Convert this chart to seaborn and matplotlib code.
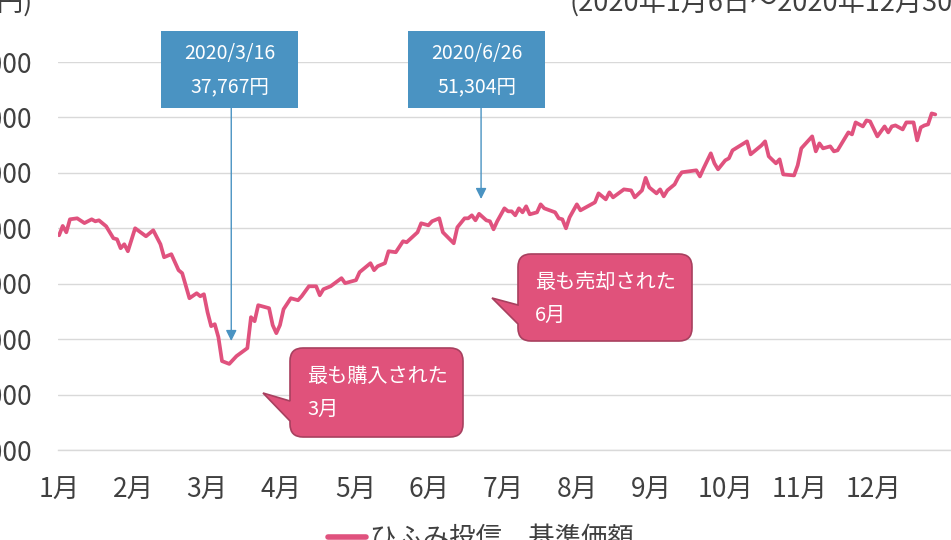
import numpy as np
import pandas as pd
import matplotlib
matplotlib.use("Agg")
import matplotlib.pyplot as plt
import seaborn as sns
from matplotlib.patches import Rectangle, PathPatch
from matplotlib.path import Path


# trading-day index (0 = 2020/1/6) and NAV (yen)
day_idx = [0, 1, 2, 3, 5, 7, 9, 10, 11, 13, 15, 16, 17, 18, 19, 21, 24, 26, 28, 29,
           31, 33, 34, 36, 38, 39, 40, 41, 42, 43, 44, 45, 47, 49, 52, 53, 54, 55, 58, 59,
           60, 61, 62, 64, 66, 67, 69, 71, 72, 73, 75, 78, 79, 82, 83, 86, 87, 88, 90, 91,
           93, 95, 96, 99, 100, 102, 103, 105, 106, 109, 110, 112, 113, 114, 115, 116, 118, 119, 120, 121,
           123, 124, 125, 126, 127, 128, 129, 130, 132, 133, 134, 137, 138, 139, 140, 141, 143, 144, 148, 149,
           151, 152, 153, 156, 158, 159, 161, 162, 163, 165, 166, 167, 168, 170, 171, 172, 176, 177, 178, 180,
           181, 182, 184, 185, 186, 190, 191, 194, 195, 196, 198, 199, 200, 203, 204, 205, 208, 209, 210, 211,
           213, 214, 215, 218, 219, 220, 222, 223, 224, 226, 228, 229, 230, 231, 233, 234, 236, 237, 238, 239,
           240, 241, 242]
nav = [49370, 50210, 49640, 50810, 50900, 50470, 50810, 50630, 50720, 50180, 49100, 49010, 48200, 48560, 47930, 50000, 49280, 49820, 48560, 47390,
       47660, 46220, 45950, 43690, 44140, 43870, 44050, 42430, 41170, 41350, 40180, 38020, 37767, 38470, 39190, 41980, 41620, 43060, 42790, 41260,
       40540, 41260, 42700, 43690, 43510, 43870, 44770, 44770, 43960, 44500, 44770, 45500, 45050, 45320, 46040, 46850, 46220, 46580, 46850, 47930,
       47840, 48830, 48740, 49640, 50450, 50270, 50630, 50900, 49640, 48650, 50090, 50900, 50900, 51170, 50720, 51304, 50720, 50630, 49910, 50630,
       51800, 51530, 51530, 51170, 51800, 51440, 51980, 51260, 51440, 52160, 51800, 51440, 50900, 50810, 50000, 50990, 52160, 51620, 52340, 53150,
       52610, 53240, 52790, 53510, 53420, 52790, 53420, 54550, 53690, 53150, 53510, 52880, 53420, 53960, 54590, 55050, 55230, 54680, 55410, 56760,
       55860, 55320, 56130, 56310, 57030, 57840, 56670, 57480, 57840, 56490, 55860, 56220, 54860, 54770, 55680, 57210, 58290, 56940, 57660, 57210,
       57390, 56940, 57030, 58650, 58470, 59550, 59190, 59730, 59640, 58290, 59190, 58650, 59190, 59280, 58920, 59550, 59550, 57930, 59100, 59280,
       59370, 60360, 60270]

month_labels = [f"{m}月" for m in range(1, 13)]
y_ticks = [30000, 35000, 40000, 45000, 50000, 55000, 60000, 65000]

series_name = "ひふみ投信　基準価額"
period_text = "(2020年1月6日〜2020年12月30日)"
unit_text = "(円)"

buy_day, buy_nav, buy_date = 47, 37767, "2020/3/16"
sell_day, sell_nav, sell_date = 116, 51304, "2020/6/26"
buy_note = ["最も購入された", "3月"]
sell_note = ["最も売却された", "6月"]

LINE = "#E0527E"
BLUE = "#4A93C2"
PINK = "#E0527B"
PINK_EDGE = "#A8405F"
GRID = "#D9D9D9"
TXT = "#404040"

W, H = 951, 540


def callout_path(x0, y0, x1, y1, r, tip, w0, w1):
    """Rounded box with a wedge on its left side (pixel coords, y down)."""
    M, L, C, Z = Path.MOVETO, Path.LINETO, Path.CURVE3, Path.CLOSEPOLY
    verts = [(x0 + r, y0), (x1 - r, y0), (x1, y0), (x1, y0 + r),
             (x1, y1 - r), (x1, y1), (x1 - r, y1),
             (x0 + r, y1), (x0, y1), (x0, y1 - r),
             (x0, w1), tip, (x0, w0),
             (x0, y0 + r), (x0, y0), (x0 + r, y0), (x0 + r, y0)]
    codes = [M, L, C, C, L, C, C, L, C, C, L, L, L, L, C, C, Z]
    return Path(verts, codes)


sns.set_style("white")
plt.rcParams["font.family"] = ["Noto Sans CJK JP", "DejaVu Sans"]

df = pd.DataFrame({"day": day_idx, "nav": nav})

fig = plt.figure(figsize=(W / 100, H / 100), dpi=100)
# plot area runs past the right edge, like the cropped original
ax = fig.add_axes([58 / W, (H - 450) / H, 899 / W, 388 / H])

sns.lineplot(data=df, x="day", y="nav", color=LINE, lw=2.7,
             label=series_name, ax=ax)

ax.set_xlim(-0.3, 248)
ax.set_ylim(y_ticks[0], y_ticks[-1])
ax.set_yticks(y_ticks)
ax.set_yticklabels([f"{v:,}" for v in y_ticks])
ax.set_xticks(np.arange(12) * 20.45)
ax.set_xticklabels(month_labels)
ax.set_xlabel("")
ax.set_ylabel("")

ax.grid(axis="y", color=GRID, lw=1)
ax.grid(axis="x", visible=False)
for s in ["top", "right", "left"]:
    ax.spines[s].set_visible(False)
ax.spines["bottom"].set_color(GRID)
ax.spines["bottom"].set_linewidth(1)
ax.tick_params(axis="y", length=0, pad=19, labelsize=19, labelcolor=TXT)
ax.tick_params(axis="x", length=7, width=1, color=GRID, pad=12,
               labelsize=19, labelcolor=TXT)

ax.legend(loc="center left", bbox_to_anchor=(328 / W, 1 / H),
          bbox_transform=fig.transFigure, frameon=False, fontsize=19,
          handlelength=1.45, handletextpad=0.15, borderpad=0, borderaxespad=0)
plt.setp(ax.get_legend().get_texts(), color=TXT)
ax.get_legend().get_lines()[0].set_linewidth(4)

fig.text(33 / W, 1 - 3 / H, unit_text, ha="right", va="center",
         fontsize=19, color=TXT)
fig.text(570 / W, 1 - 3 / H, period_text, ha="left", va="center",
         fontsize=19.5, color=TXT)

# overlay in pixel coords for the boxes and callouts
ov = fig.add_axes([0, 0, 1, 1], zorder=5)
ov.set_xlim(0, W)
ov.set_ylim(H, 0)
ov.axis("off")


def data_x_px(day):
    return ax.transData.transform((day, 0))[0]


for day, val, date, bx in [(buy_day, buy_nav, buy_date, 161),
                           (sell_day, sell_nav, sell_date, 408)]:
    ov.add_patch(Rectangle((bx, 31), 137, 77, facecolor=BLUE, edgecolor="none"))
    cx = bx + 68.5
    ov.text(cx, 53, date, ha="center", va="center", color="white", fontsize=14)
    ov.text(cx, 87, f"{val:,}円", ha="center", va="center", color="white", fontsize=14)
    px = data_x_px(day) + 2
    tip_y = 341 if day == buy_day else 199
    ov.annotate("", xy=(px, tip_y), xytext=(px, 108),
                arrowprops=dict(arrowstyle="-|>", color=BLUE, lw=1,
                                mutation_scale=16, shrinkA=0, shrinkB=0))

for (x0, y0, x1, y1, tip, w0, w1), note in [
        ((290, 348, 463, 437, (263, 393), 401, 421), buy_note),
        ((518, 254, 692, 341, (492, 298), 305, 324), sell_note)]:
    ov.add_patch(PathPatch(callout_path(x0, y0, x1, y1, 13, tip, w0, w1),
                           facecolor=PINK, edgecolor=PINK_EDGE, lw=1.2))
    ov.text(x0 + 17, y0 + 29, note[0], ha="left", va="center",
            color="white", fontsize=14.5)
    ov.text(x0 + 17, y0 + 61, note[1], ha="left", va="center",
            color="white", fontsize=14.5)

fig.savefig("out.png", dpi=100)
plt.close(fig)
